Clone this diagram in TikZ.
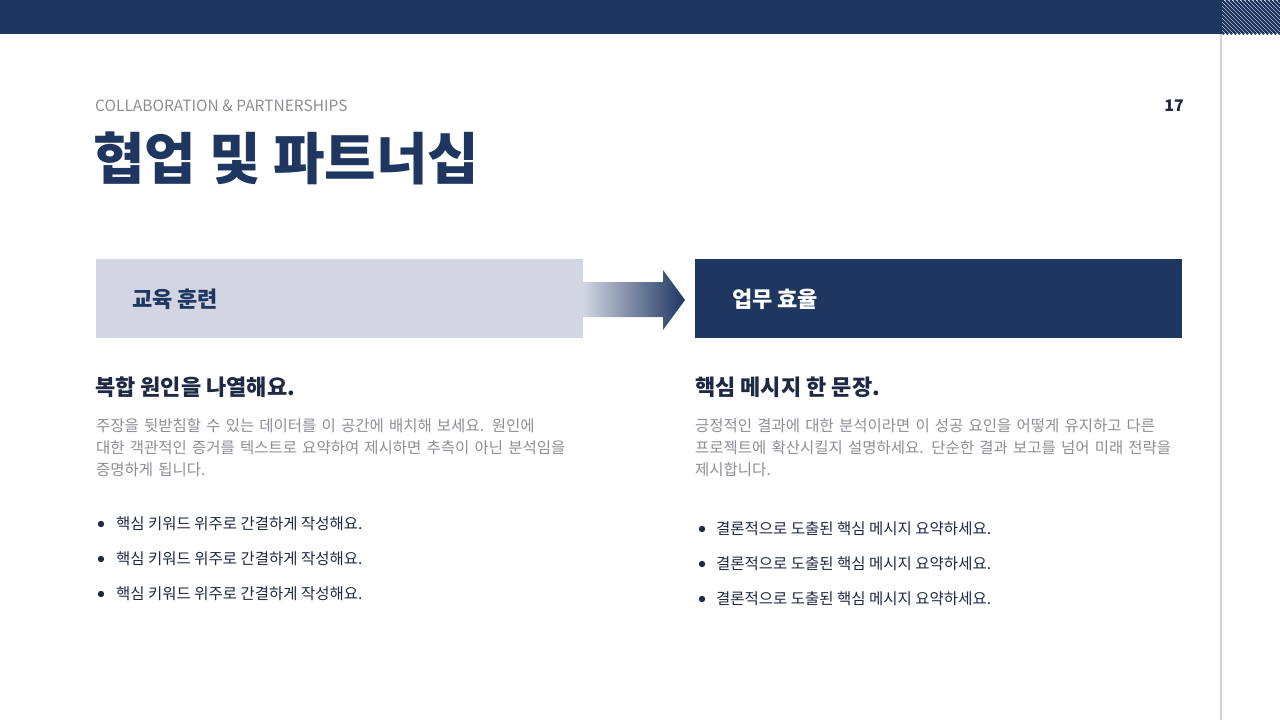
\documentclass[tikz,border=0pt]{standalone}
\usepackage{fontspec}
\setmainfont{Noto Sans CJK KR}
\usetikzlibrary{patterns}
\definecolor{navy}{HTML}{1E3660}
\definecolor{lightbox}{HTML}{D1D6E2}
\definecolor{graytxt}{HTML}{8E8E98}
\definecolor{dark}{HTML}{1E2A44}
\begin{document}
\begin{tikzpicture}[x=1pt,y=-1pt,
  body/.style={anchor=north west,inner sep=0,text width=485pt,align=left,font=\fontsize{15.5}{22}\selectfont,text=graytxt},
  bul/.style={anchor=west,inner sep=0,font=\fontsize{15.5}{20}\selectfont,text=dark},
  head/.style={anchor=west,inner sep=0,font=\bfseries\fontsize{22}{26}\selectfont,text=dark}]
\useasboundingbox (0,0) rectangle (1280,720);
\fill[white] (0,0) rectangle (1280,720);
\fill[navy] (0,0) rectangle (1280,34);
\fill[white] (1222,0) rectangle (1280,34);
\begin{scope}
\clip (1222,0) rectangle (1280,34);
\foreach \i in {-40,-36,...,100} {\draw[navy,line width=2.2pt] (1222+\i,0) -- (1222+\i+34,34);}
\end{scope}
\draw[gray!35,line width=1.5pt] (1221,34) -- (1221,720);
\node[anchor=west,inner sep=0,font=\fontsize{15.5}{18}\selectfont,text=graytxt] (sub) at (95,106) {COLLABORATION \& PARTNERSHIPS};
\node[anchor=east,inner sep=0,font=\bfseries\fontsize{16}{18}\selectfont,text=dark] (pg) at (1184,106) {17};
\node[anchor=west,inner sep=0,font=\bfseries\fontsize{56}{60}\selectfont,text=navy] (title) at (93,158) {협업 및 파트너십};
\fill[lightbox] (96,259) rectangle (583,338);
\node[anchor=west,inner sep=0,font=\bfseries\fontsize{22}{26}\selectfont,text=navy] (l1) at (132,299) {교육 훈련};
\fill[navy] (695,259) rectangle (1182,338);
\node[anchor=west,inner sep=0,font=\bfseries\fontsize{22}{26}\selectfont,text=white] (r1) at (732,299) {업무 효율};
\shade[left color=lightbox,right color=navy] (583,282) -- (663,282) -- (663,270) -- (685,300) -- (663,330) -- (663,317) -- (583,317) -- cycle;
\node[head] (lh) at (95,387) {복합 원인을 나열해요.};
\node[head] (rh) at (695,387) {핵심 메시지 한 문장.};
\node[body] (lb) at (96,418) {주장을 뒷받침할 수 있는 데이터를 이 공간에 배치해 보세요. 원인에 대한 객관적인 증거를 텍스트로 요약하여 제시하면 추측이 아닌 분석임을 증명하게 됩니다.};
\node[body] (rb) at (695,418) {긍정적인 결과에 대한 분석이라면 이 성공 요인을 어떻게 유지하고 다른 프로젝트에 확산시킬지 설명하세요. 단순한 결과 보고를 넘어 미래 전략을 제시합니다.};
\foreach \y [count=\k] in {524,559,594} {
  \fill[dark] (101,\y) circle (3.2);
  \node[bul] (lb\k) at (116,\y) {핵심 키워드 위주로 간결하게 작성해요.};
}
\foreach \y [count=\k] in {529,564,599} {
  \fill[dark] (702,\y) circle (3.2);
  \node[bul] (rb\k) at (716,\y) {결론적으로 도출된 핵심 메시지 요약하세요.};
}
\end{tikzpicture}
\end{document}
